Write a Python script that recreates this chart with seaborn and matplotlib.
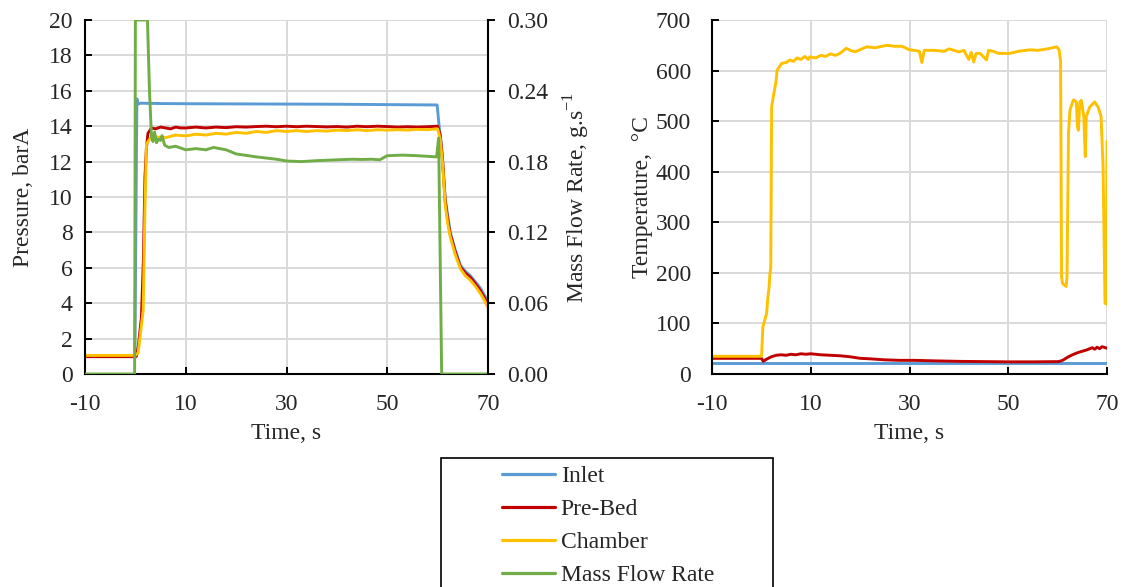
import matplotlib
matplotlib.use("Agg")
import matplotlib.pyplot as plt
from matplotlib.lines import Line2D
from matplotlib.patches import Rectangle
import seaborn as sns
import pandas as pd

# ---------------- data ----------------
series_names = ["Inlet", "Pre-Bed", "Chamber", "Mass Flow Rate"]

# Pressure (barA)
t_inlet_p = [-10, -0.1, 0.3, 0.5, 1, 5, 10, 20, 30, 40, 50, 59.9, 60.3, 60.8, 61.5,
             62.5, 63.5, 64.5, 65.5, 66.5, 67.5, 68.5, 69.3, 70]
p_inlet = [1.0, 1.0, 15.55, 15.25, 15.3, 15.28, 15.27, 15.26, 15.25, 15.24, 15.22, 15.2,
           14.0, 12.8, 9.9, 8.0, 7.0, 6.15, 5.8, 5.55, 5.2, 4.85, 4.45, 4.05]

t_prebed_p = [-10, 0, 0.2, 0.6, 1.2, 1.6, 1.9, 2.2, 2.5, 3.2, 4, 5, 6, 7, 8, 9, 10, 12, 14,
              16, 18, 20, 22, 24, 26, 28, 30, 32, 34, 36, 38, 40, 42, 44, 46, 48, 50, 52,
              54, 56, 58, 60, 60.5, 61, 61.5, 62, 62.5, 63.5, 64.5, 65.5, 66.5, 67.5,
              68.5, 69.3, 70]
p_prebed = [0.98, 0.98, 1.0, 1.6, 3.2, 6.5, 11.1, 12.8, 13.6, 13.9, 13.85, 13.95, 13.9,
            13.85, 13.95, 13.9, 13.9, 13.95, 13.9, 13.95, 13.92, 13.97, 13.95, 13.98, 14.0,
            13.97, 14.0, 13.97, 14.0, 13.98, 13.96, 13.98, 13.95, 14.0, 13.97, 14.0, 13.98,
            13.95, 13.97, 13.95, 13.97, 14.0, 13.5, 12.0, 9.8, 8.7, 7.9, 6.9, 6.05, 5.7,
            5.45, 5.1, 4.7, 4.3, 3.9]

t_chamber_p = [-10, 0, 0.55, 1.1, 1.55, 1.9, 2.2, 2.9, 4, 6, 8, 10, 12, 14, 16, 18, 20,
               22, 24, 26, 28, 30, 32, 34, 36, 38, 40, 42, 44, 46, 48, 50, 52, 54, 56, 58,
               60, 60.5, 61, 61.5, 62, 62.5, 63.5, 64.5, 65.5, 66.5, 67.5, 68.5, 69.3, 70]
p_chamber = [1.05, 1.05, 1.2, 2.5, 3.6, 9.3, 13.0, 13.3, 13.4, 13.35, 13.5, 13.45, 13.55,
             13.5, 13.6, 13.55, 13.65, 13.6, 13.7, 13.65, 13.75, 13.7, 13.75, 13.7, 13.75,
             13.72, 13.78, 13.75, 13.8, 13.75, 13.8, 13.78, 13.8, 13.78, 13.82, 13.8,
             13.85, 13.3, 11.8, 9.6, 8.5, 7.75, 6.75, 5.95, 5.55, 5.3, 4.95, 4.55, 4.15, 3.75]

# Mass flow rate (g/s)
t_mfr = [-10, -0.15, 0, 2.4, 2.8, 3.2, 3.5, 3.8, 4.2, 4.6, 5.0, 5.3, 5.8, 6.6, 8, 10, 12,
         14, 15.5, 18, 20, 24, 28, 30, 33, 36, 40, 43, 45, 47, 48.5, 50, 53, 56, 59.8,
         60.2, 60.8, 70]
mfr = [0, 0, 0.30, 0.30, 0.24, 0.201, 0.197, 0.205, 0.196, 0.199, 0.198, 0.202, 0.194,
       0.192, 0.193, 0.19, 0.191, 0.19, 0.192, 0.19, 0.1865, 0.184, 0.182, 0.1805, 0.180,
       0.1808, 0.1815, 0.182, 0.1818, 0.182, 0.1815, 0.185, 0.1855, 0.185, 0.184,
       0.2, 0.0, 0.0]

# Temperature (°C)
t_inlet_T = [-10, 0, 30, 60, 70]
T_inlet = [22.5, 22.5, 22.5, 22.5, 22.5]

t_prebed_T = [-10, 0, 0.4, 1, 2, 3, 4, 5, 6, 7, 8, 9, 10, 12, 14, 16, 18, 20, 22, 25, 28,
              31, 35, 40, 45, 50, 55, 60.2, 61, 62, 63, 64, 65, 66, 66.5, 67, 67.5, 68,
              68.5, 69, 70]
T_prebed = [31, 31, 25, 29, 34, 37, 38, 37, 39, 38, 40, 39, 40, 38, 37, 36, 34, 31, 30,
            28, 27, 27, 26, 25, 24.5, 24, 24, 24.5, 27, 33, 38, 42, 45, 48, 50, 52, 49,
            53, 50, 54, 51]

t_chamber_T = [-10, 0, 0.06, 0.3, 1.07, 1.3, 1.55, 1.74, 1.9, 2.08, 2.4, 2.96, 3.2, 4.1,
               5, 5.8, 6.5, 7.2, 8, 8.8, 9.5, 9.8, 11, 12, 13, 14, 15, 15.9, 17.2, 18, 19,
               21.3, 23, 25.4, 27, 28.5, 30, 31, 32, 32.5, 33, 35, 37, 38, 40, 41, 42,
               42.5, 43, 43.5, 44.3, 45, 45.6, 46, 47, 48, 50.3, 52, 54.4, 56, 58, 59.8,
               60.3, 60.6, 60.8, 61, 61.7, 61.9, 62.2, 62.5, 63.2, 63.8, 64, 64.2, 64.5,
               64.8, 65.3, 65.6, 65.8, 66.5, 67.5, 68.2, 68.8, 69.2, 69.6, 69.9, 70]
T_chamber = [35, 35, 40, 93, 120, 150, 170, 199, 210, 528, 548, 578, 601, 614, 616, 621,
             618, 625, 622, 628, 622, 627, 625, 630, 628, 633, 630, 634, 644, 640, 637, 647,
             645, 650, 648, 648, 641, 640, 638, 616, 640, 640, 638, 643, 637, 640, 622,
             636, 617, 634, 634, 627, 621, 640, 638, 634, 634, 638, 641, 640, 643, 647,
             641, 618, 192, 179, 173, 192, 476, 522, 542, 538, 490, 482, 538, 541, 509,
             430, 509, 528, 538, 528, 509, 410, 140, 138, 460]

colors = {"Inlet": "#5B9BD5", "Pre-Bed": "#C00000", "Chamber": "#FFC000",
          "Mass Flow Rate": "#70AD47"}

x_ticks = [-10, 10, 30, 50, 70]
p_ticks = list(range(0, 21, 2))
mfr_ticks = [0.00, 0.06, 0.12, 0.18, 0.24, 0.30]
T_ticks = list(range(0, 701, 100))

# ---------------- styling ----------------
sns.set_theme(style="white")
plt.rcParams["font.family"] = ["Liberation Serif", "DejaVu Serif"]
plt.rcParams["mathtext.fontset"] = "custom"
plt.rcParams["mathtext.rm"] = "Liberation Serif"
plt.rcParams["axes.unicode_minus"] = False
FS = 17
LW = 2.1
GRID = "#D9D9D9"

fig = plt.figure(figsize=(11.23, 5.87), dpi=100)
W, H = 1123, 587
axL = fig.add_axes([85 / W, 1 - 374 / H, 403 / W, 354 / H])
axR = fig.add_axes([712 / W, 1 - 374 / H, 395 / W, 354 / H])


def style_axis(ax):
    for s in ["top", "right"]:
        ax.spines[s].set_visible(False)
    for s in ["left", "bottom"]:
        ax.spines[s].set_color("black")
        ax.spines[s].set_linewidth(1.5)
    ax.grid(True, color=GRID, linewidth=1.4)
    ax.set_axisbelow(True)
    ax.set_xticks(x_ticks)
    ax.set_xlim(-10, 70)
    ax.tick_params(axis="x", direction="in", length=5, width=1.4, color="black",
                   labelsize=FS, pad=14.5, bottom=True)
    ax.set_xlabel("Time, s", fontsize=FS, labelpad=6)


# Left: pressure
style_axis(axL)
for tt, vv, nm in [(t_inlet_p, p_inlet, "Inlet"), (t_prebed_p, p_prebed, "Pre-Bed"),
                   (t_chamber_p, p_chamber, "Chamber")]:
    sns.lineplot(x=tt, y=vv, ax=axL, color=colors[nm], linewidth=LW, estimator=None,
                 sort=False, legend=False)
axL.set_ylim(0, 20)
axL.set_yticks(p_ticks)
axL.tick_params(axis="y", direction="in", length=5, width=1.4, color="black",
                labelsize=FS, pad=9, left=True)
axL.set_ylabel("Pressure, barA", fontsize=FS, labelpad=10.5)

axM = axL.twinx()
sns.lineplot(x=t_mfr, y=mfr, ax=axM, color=colors["Mass Flow Rate"], linewidth=LW,
             estimator=None, sort=False, legend=False)
axM.set_ylim(0, 0.30)
axM.set_yticks(mfr_ticks)
axM.set_yticklabels([f"{v:.2f}" for v in mfr_ticks])
axM.grid(False)
for s in ["top", "left", "bottom"]:
    axM.spines[s].set_visible(False)
axM.spines["right"].set_color("black")
axM.spines["right"].set_linewidth(1.5)
axM.tick_params(axis="y", direction="out", length=5, width=1.4, color="black",
                labelsize=FS, pad=9, right=True)
axM.set_ylabel("Mass Flow Rate, g.s$^{\\mathrm{-1}}$", fontsize=FS, labelpad=9.5)
axM.set_xlim(-10, 70)

# Right: temperature
style_axis(axR)
for tt, vv, nm in [(t_inlet_T, T_inlet, "Inlet"), (t_prebed_T, T_prebed, "Pre-Bed"),
                   (t_chamber_T, T_chamber, "Chamber")]:
    sns.lineplot(x=tt, y=vv, ax=axR, color=colors[nm], linewidth=LW, estimator=None,
                 sort=False, legend=False)
axR.set_ylim(0, 700)
axR.set_yticks(T_ticks)
axR.tick_params(axis="y", direction="in", length=5, width=1.4, color="black",
                labelsize=FS, pad=15, left=True)
axR.set_ylabel("Temperature,  °C", fontsize=FS, labelpad=2)

# Legend
handles = [Line2D([0], [0], color=colors[n], linewidth=LW + 0.2) for n in series_names]
fig.patches.append(Rectangle((441 / W, -0.05), 332 / W, (587 - 458) / H + 0.05,
                             transform=fig.transFigure, fill=False, edgecolor="black",
                             linewidth=1.2))
fig.legend(handles, series_names, loc="center", bbox_to_anchor=(608 / W, 1 - 526 / H),
           frameon=False, fontsize=FS, handlelength=2.25, handletextpad=0.25,
           labelspacing=0.48, borderpad=0)

fig.savefig("out.png", dpi=100)
